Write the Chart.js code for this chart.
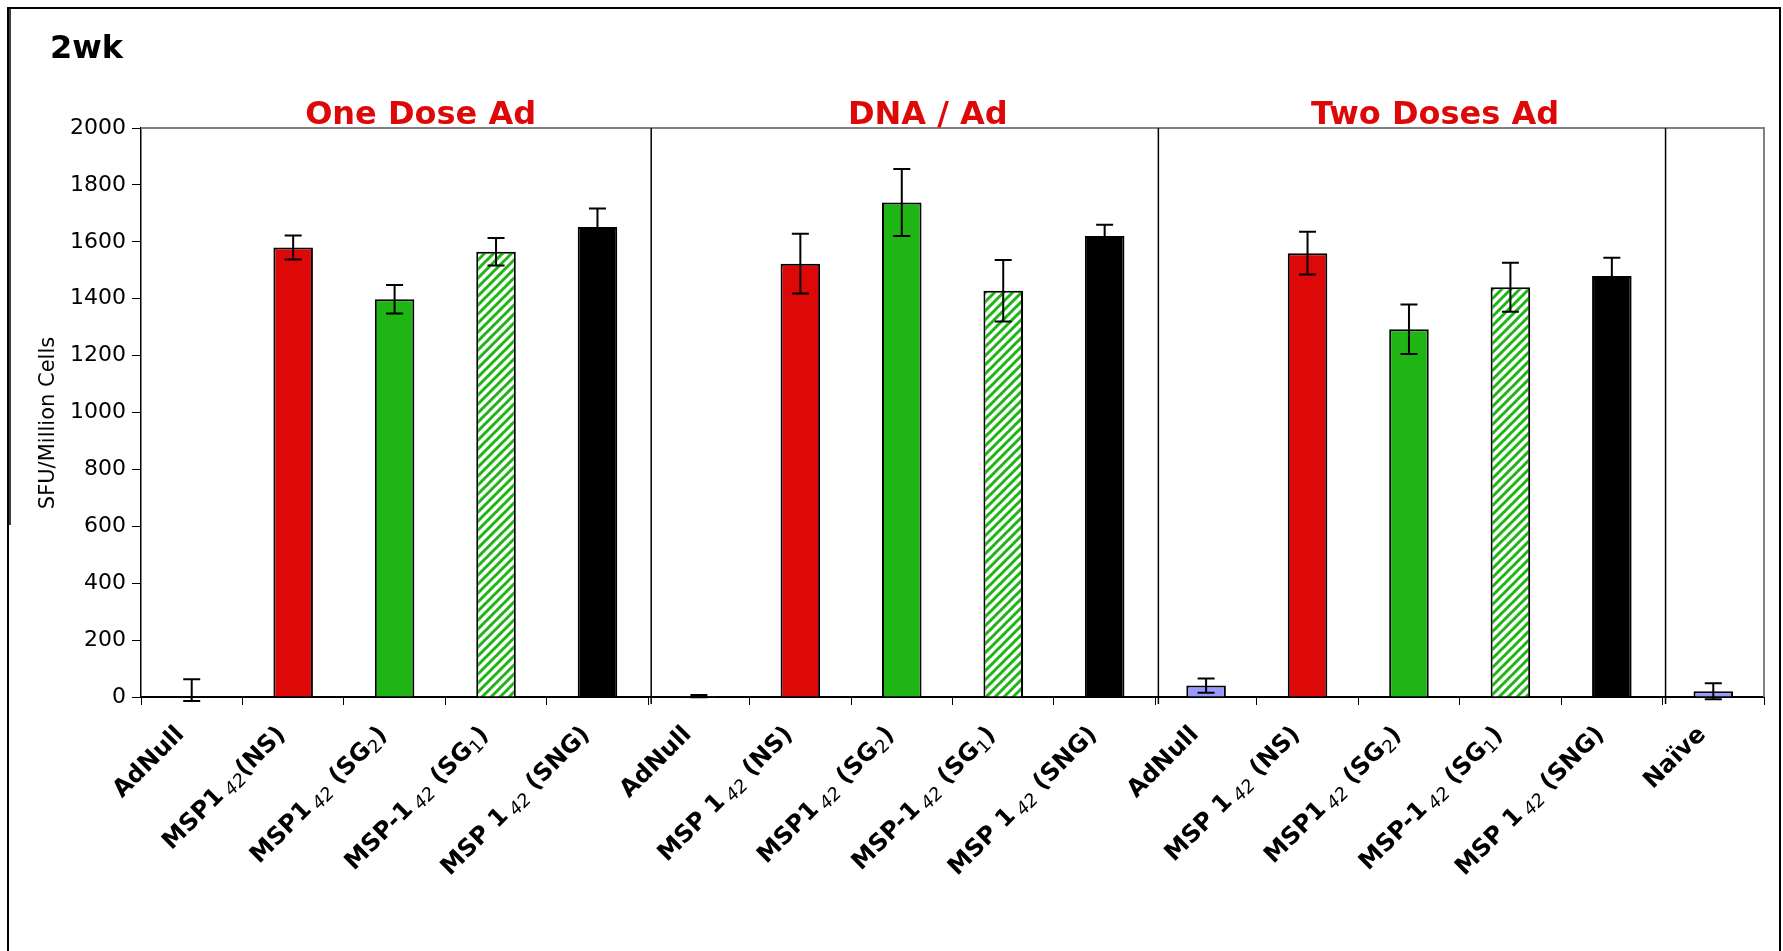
<!DOCTYPE html>
<html>
<head>
<meta charset="utf-8">
<script src="https://cdn.jsdelivr.net/npm/chart.js@4.4.0/dist/chart.umd.min.js"></script>
<style>
  html, body { margin: 0; padding: 0; background: #fff; }
  #wrap { position: relative; width: 1783px; height: 951px; }
</style>
</head>
<body>
<div id="wrap"><canvas id="chart2wk"></canvas></div>
<script>
// labels: text between ~ ~ is drawn as a subscript
const categories = [
  'AdNull', 'MSP1~42~(NS)', 'MSP1~42~ (SG~2~)', 'MSP-1~42~ (SG~1~)', 'MSP 1~42~ (SNG)',
  'AdNull', 'MSP 1~42~ (NS)', 'MSP1~42~ (SG~2~)', 'MSP-1~42~ (SG~1~)', 'MSP 1~42~ (SNG)',
  'AdNull', 'MSP 1~42~ (NS)', 'MSP1~42~ (SG~2~)', 'MSP-1~42~ (SG~1~)', 'MSP 1~42~ (SNG)',
  'Naïve'
];
const sfuMean = [24, 1580, 1398, 1565, 1652, 3, 1523, 1738, 1428, 1620, 40, 1560, 1293, 1440, 1480, 20];
const sfuErr = [38, 42, 50, 48, 65, 4, 105, 118, 108, 40, 25, 75, 87, 86, 64, 28];
const barKind = ['none', 'ns', 'sg2', 'sg1', 'sng', 'null', 'ns', 'sg2', 'sg1', 'sng', 'null', 'ns', 'sg2', 'sg1', 'sng', 'null'];
const groupTitles = ['One Dose Ad', 'DNA / Ad', 'Two Doses Ad'];
const groupSize = [5, 5, 5];
const yMin = 0, yMax = 2000, yStep = 200;
const yTitle = 'SFU/Million Cells';
const panelTitle = '2wk';

const RED = '#DD0909';
const GREEN = '#1FB515';
const SANS = '"DejaVu Sans", Verdana, sans-serif';

function hatch() {
  const c = document.createElement('canvas');
  c.width = 9; c.height = 9;
  const g = c.getContext('2d');
  g.fillStyle = '#fff';
  g.fillRect(0, 0, 9, 9);
  g.strokeStyle = GREEN;
  g.lineWidth = 3;
  g.beginPath();
  g.moveTo(-2, 11); g.lineTo(11, -2);
  g.moveTo(-3, 3); g.lineTo(3, -3);
  g.moveTo(6, 12); g.lineTo(12, 6);
  g.stroke();
  return g.createPattern(c, 'repeat');
}

const fills = { none: 'rgba(0,0,0,0)', null: '#9999FF', ns: RED, sg2: GREEN, sg1: hatch(), sng: '#000' };

const errorBars = {
  id: 'errorBars',
  afterDatasetsDraw(chart) {
    const { ctx, scales: { x, y } } = chart;
    ctx.save();
    ctx.strokeStyle = '#000';
    ctx.lineWidth = 2;
    sfuMean.forEach((m, i) => {
      const px = x.getPixelForValue(i);
      const top = y.getPixelForValue(m + sfuErr[i]);
      const bot = y.getPixelForValue(m - sfuErr[i]);
      ctx.beginPath();
      ctx.moveTo(px, top); ctx.lineTo(px, bot);
      ctx.moveTo(px - 8.5, top); ctx.lineTo(px + 8.5, top);
      ctx.moveTo(px - 8.5, bot); ctx.lineTo(px + 8.5, bot);
      ctx.stroke();
    });
    ctx.restore();
  }
};

function drawRich(ctx, text, x, y) {
  const parts = text.split('~');
  const mainFont = 'bold 24px ' + SANS;
  const subFont = p => (p.length > 1 ? 'oblique ' : '') + '18px ' + SANS;
  const gap = p => (p.length > 1 ? 5 : 0);
  const widths = parts.map((p, k) => {
    ctx.font = k % 2 ? subFont(p) : mainFont;
    return ctx.measureText(p).width + (k % 2 ? gap(p) : 0);
  });
  const total = widths.reduce((a, b) => a + b, 0);
  ctx.save();
  ctx.translate(x, y);
  ctx.rotate(-Math.PI / 4);
  ctx.textBaseline = 'middle';
  ctx.textAlign = 'left';
  let cx = -total;
  parts.forEach((p, k) => {
    ctx.font = k % 2 ? subFont(p) : mainFont;
    ctx.fillText(p, cx + (k % 2 ? gap(p) : 0), k % 2 ? 6 : 0);
    cx += widths[k];
  });
  ctx.restore();
}

const decor = {
  id: 'decor',
  afterDraw(chart) {
    const { ctx, chartArea: a, scales: { x } } = chart;
    ctx.save();
    // plot frame top / right
    ctx.strokeStyle = '#808080';
    ctx.lineWidth = 2;
    ctx.beginPath();
    ctx.moveTo(a.left, a.top); ctx.lineTo(a.right, a.top); ctx.lineTo(a.right, a.bottom);
    ctx.stroke();

    // group separators
    ctx.strokeStyle = '#000';
    ctx.lineWidth = 1.5;
    let end = -1;
    groupSize.forEach(n => {
      end += n;
      const sx = (x.getPixelForValue(end) + x.getPixelForValue(end + 1)) / 2 + 3;
      ctx.beginPath();
      ctx.moveTo(sx, a.top); ctx.lineTo(sx, a.bottom + 7);
      ctx.stroke();
    });

    // group titles
    ctx.fillStyle = RED;
    ctx.font = 'bold 32px ' + SANS;
    ctx.textAlign = 'center';
    ctx.textBaseline = 'alphabetic';
    let start = 0;
    groupTitles.forEach((t, g) => {
      const mid = start + (groupSize[g] - 1) / 2;
      ctx.fillText(t, x.getPixelForValue(mid) + 26, a.top - 4);
      start += groupSize[g];
    });

    // panel title
    ctx.fillStyle = '#000';
    ctx.textAlign = 'left';
    ctx.fillText(panelTitle, 50, 58);

    // y axis title
    ctx.save();
    ctx.translate(49, 423);
    ctx.rotate(-Math.PI / 2);
    ctx.font = '21px ' + SANS;
    ctx.textAlign = 'center';
    ctx.textBaseline = 'middle';
    ctx.fillText(yTitle, 0, 0);
    ctx.restore();

    // category labels
    categories.forEach((lab, i) => drawRich(ctx, lab, x.getPixelForValue(i) - 11, a.bottom + 34));

    // outer frame
    ctx.strokeStyle = '#000';
    ctx.lineWidth = 2;
    ctx.beginPath();
    ctx.moveTo(8, 951); ctx.lineTo(8, 8); ctx.lineTo(1780, 8); ctx.lineTo(1780, 951);
    ctx.stroke();
    ctx.lineWidth = 1.5;
    ctx.beginPath();
    ctx.moveTo(10, 8); ctx.lineTo(10, 525);
    ctx.stroke();
    ctx.restore();
  }
};

new Chart(document.getElementById('chart2wk'), {
  type: 'bar',
  data: {
    labels: categories.map(c => c.replace(/~/g, '')),
    datasets: [{
      label: yTitle,
      data: sfuMean,
      backgroundColor: barKind.map(k => fills[k]),
      borderColor: barKind.map(k => k === 'none' ? 'rgba(0,0,0,0)' : '#000'),
      borderWidth: 2,
      barPercentage: 0.39,
      categoryPercentage: 1
    }]
  },
  options: {
    responsive: true,
    maintainAspectRatio: false,
    animation: false,
    layout: { padding: { top: 128, right: 19, bottom: 0, left: 0 } },
    plugins: { legend: { display: false }, tooltip: { enabled: false } },
    scales: {
      x: {
        grid: { drawOnChartArea: false, drawTicks: true, tickLength: 8, color: '#000', offset: true },
        border: { color: '#000', width: 2 },
        ticks: { display: false },
        afterFit: s => { s.height = 254; }
      },
      y: {
        min: yMin,
        max: yMax,
        grid: { drawOnChartArea: false, tickLength: 9, color: '#000' },
        border: { color: '#000', width: 1.5 },
        ticks: {
          stepSize: yStep,
          padding: 6,
          color: '#000',
          font: { family: SANS, size: 22 },
          callback: v => String(v)
        },
        afterFit: s => { s.width = 141; }
      }
    }
  },
  plugins: [errorBars, decor]
});
</script>
</body>
</html>
